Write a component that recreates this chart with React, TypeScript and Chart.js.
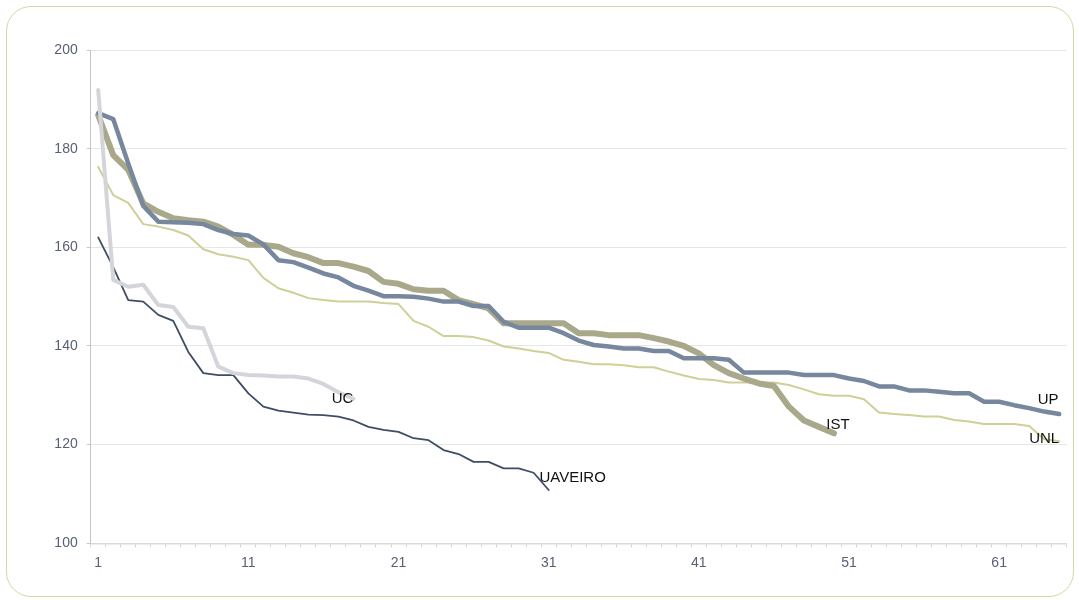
import React, { useEffect, useRef } from "react";
import { Chart, registerables } from "chart.js";

Chart.register(...registerables);

const categories = [
  "1", "2", "3", "4", "5", "6", "7", "8", "9", "10",
  "11", "12", "13", "14", "15", "16", "17", "18", "19", "20",
  "21", "22", "23", "24", "25", "26", "27", "28", "29", "30",
  "31", "32", "33", "34", "35", "36", "37", "38", "39", "40",
  "41", "42", "43", "44", "45", "46", "47", "48", "49", "50",
  "51", "52", "53", "54", "55", "56", "57", "58", "59", "60",
  "61", "62", "63", "64", "65",
];

const yTicks = [100, 120, 140, 160, 180, 200];

const upValues = [
  187.2, 186.0, 177.0, 168.4, 165.2, 165.1, 165.0, 164.7, 163.5, 162.7,
  162.4, 160.6, 157.4, 157.0, 155.9, 154.7, 153.9, 152.2, 151.2, 150.1,
  150.1, 150.0, 149.6, 149.0, 149.0, 148.1, 148.1, 144.9, 143.7, 143.7,
  143.7, 142.6, 141.1, 140.2, 139.9, 139.5, 139.5, 139.0, 139.0, 137.5,
  137.5, 137.5, 137.2, 134.6, 134.6, 134.6, 134.6, 134.1, 134.1, 134.1,
  133.4, 132.9, 131.8, 131.8, 131.0, 131.0, 130.7, 130.4, 130.4, 128.7,
  128.7, 128.0, 127.4, 126.7, 126.2,
];

const istValues = [
  186.8, 178.7, 175.7, 168.9, 167.2, 165.9, 165.5, 165.2, 164.2, 162.5,
  160.5, 160.5, 160.1, 158.8, 158.0, 156.8, 156.8, 156.1, 155.2, 153.0,
  152.6, 151.5, 151.2, 151.2, 149.3, 148.5, 147.6, 144.6, 144.6, 144.6,
  144.6, 144.6, 142.6, 142.6, 142.2, 142.2, 142.2, 141.6, 140.9, 140.0,
  138.5, 136.1, 134.5, 133.4, 132.4, 131.9, 127.7, 124.9, 123.6, 122.3,
];

const unlValues = [
  176.3, 170.6, 169.0, 164.7, 164.2, 163.5, 162.4, 159.6, 158.6, 158.1,
  157.4, 153.8, 151.7, 150.8, 149.7, 149.3, 149.0, 149.0, 149.0, 148.7,
  148.5, 145.1, 143.9, 142.0, 142.0, 141.8, 141.1, 139.9, 139.5, 139.0,
  138.6, 137.2, 136.8, 136.3, 136.3, 136.1, 135.7, 135.7, 134.8, 134.0,
  133.3, 133.1, 132.6, 132.6, 132.6, 132.6, 132.1, 131.2, 130.2, 129.9,
  129.9, 129.2, 126.5, 126.2, 126.0, 125.7, 125.7, 125.0, 124.7, 124.2,
  124.2, 124.2, 123.8, 121.1, 120.7,
];

const ucValues = [
  191.9, 153.4, 152.0, 152.4, 148.3, 147.9, 143.9, 143.6, 135.8, 134.5,
  134.1, 134.0, 133.8, 133.8, 133.4, 132.3, 130.6, 129.3,
];

const uaveiroValues = [
  162.0, 156.0, 149.3, 149.0, 146.3, 145.1, 138.8, 134.5, 134.1, 134.1,
  130.4, 127.7, 126.9, 126.5, 126.1, 126.0, 125.7, 124.9, 123.6, 123.0,
  122.6, 121.3, 120.9, 118.9, 118.1, 116.5, 116.5, 115.2, 115.2, 114.3,
  110.8,
];

// label offsets (px) from the last point of each series
const labelOffsets: Record<string, [number, number]> = {
  UC: [-11, 0],
  UAVEIRO: [24, -12],
  UP: [-11, -14],
  IST: [4, -8],
  UNL: [-15, -2],
};

const FONT = "'Liberation Sans', Arial, sans-serif";
const TICK_COLOR = "#586174";

export default function App() {
  const ref = useRef<HTMLCanvasElement>(null);

  useEffect(() => {
    if (!ref.current) return;
    const endLabels = {
      id: "endLabels",
      afterDatasetsDraw(chart: any) {
        const ctx = chart.ctx;
        ctx.save();
        ctx.font = `15px ${FONT}`;
        ctx.fillStyle = "#111111";
        ctx.textAlign = "center";
        ctx.textBaseline = "middle";
        chart.data.datasets.forEach((ds: any, i: number) => {
          const meta = chart.getDatasetMeta(i);
          const last = meta.data[meta.data.length - 1];
          if (!last) return;
          const off = labelOffsets[ds.label] || [0, 0];
          ctx.fillText(ds.label, last.x + off[0], last.y + off[1]);
        });
        ctx.restore();
      },
    };

    const common = {
      pointRadius: 0,
      pointHoverRadius: 0,
      tension: 0,
      fill: false,
      borderJoinStyle: "round" as const,
      borderCapStyle: "round" as const,
    };

    const chart = new Chart(ref.current, {
      type: "line",
      data: {
        labels: categories,
        datasets: [
          { ...common, label: "UC", data: ucValues, borderColor: "#d3d5da", borderWidth: 4 },
          { ...common, label: "UAVEIRO", data: uaveiroValues, borderColor: "#3f4d64", borderWidth: 1.8 },
          { ...common, label: "UP", data: upValues, borderColor: "#76879e", borderWidth: 4.5 },
          { ...common, label: "IST", data: istValues, borderColor: "#a9a88a", borderWidth: 6 },
          { ...common, label: "UNL", data: unlValues, borderColor: "#cfcf98", borderWidth: 2 },
        ],
      },
      options: {
        responsive: false,
        animation: false,
        events: [],
        layout: { padding: { left: 0, right: 12.3, top: 50, bottom: 0 } },
        plugins: {
          legend: { display: false },
          tooltip: { enabled: false },
        },
        scales: {
          x: {
            type: "category",
            offset: true,
            grid: {
              offset: true,
              drawOnChartArea: false,
              drawTicks: true,
              tickLength: 4,
              color: "#d4d4d4",
            },
            border: { color: "#d9d9d9", width: 1.5 },
            ticks: {
              autoSkip: false,
              maxRotation: 0,
              minRotation: 0,
              padding: 7,
              color: TICK_COLOR,
              font: { family: FONT, size: 14 },
              callback: (_v: any, i: number) => (i % 10 === 0 ? categories[i] : ""),
            },
            afterFit: (s: any) => {
              s.height = 56.7;
            },
          },
          y: {
            min: yTicks[0],
            max: yTicks[yTicks.length - 1],
            afterBuildTicks: (s: any) => {
              s.ticks = yTicks.map((v) => ({ value: v }));
            },
            grid: {
              color: "#e6e6e6",
              tickLength: 4,
              tickColor: "#c8c8c8",
            },
            border: { color: "#c4c4c4", width: 1 },
            ticks: {
              padding: 9,
              color: TICK_COLOR,
              font: { family: FONT, size: 14 },
            },
            afterFit: (s: any) => {
              s.width = 90.7;
            },
          },
        },
      },
      plugins: [endLabels],
    });
    return () => chart.destroy();
  }, []);

  return (
    <div style={{ position: "absolute", left: 0, top: 0, width: 1079, height: 600, background: "#ffffff" }}>
      <div
        style={{
          position: "absolute",
          left: 6,
          top: 6,
          width: 1068,
          height: 591,
          border: "1.5px solid #d6d6a6",
          borderRadius: 25,
          boxSizing: "border-box",
        }}
      />
      <canvas ref={ref} width={1079} height={600} style={{ position: "absolute", left: 0, top: 0 }} />
    </div>
  );
}
